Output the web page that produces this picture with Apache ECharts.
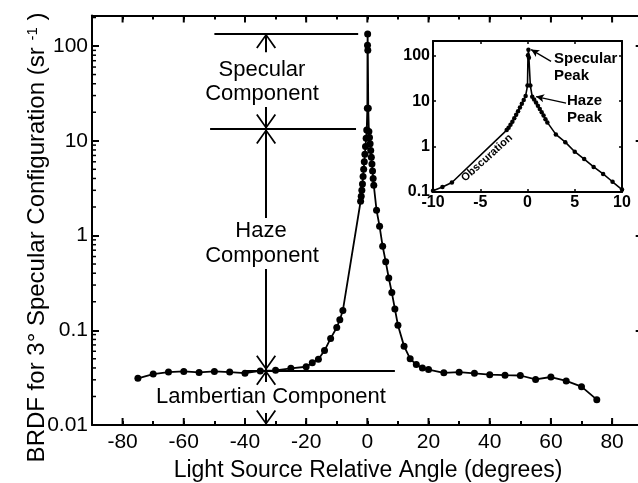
<!DOCTYPE html>
<html><head><meta charset="utf-8">
<script src="https://cdn.jsdelivr.net/npm/echarts@6/dist/echarts.min.js"></script>
<style>html,body{margin:0;padding:0;background:#fff}#c{width:638px;height:483px}</style>
</head><body><div id="c"></div>
<script>
// ---- data ----
const angles = [-75,-70,-65,-60,-55,-50,-45,-40,-35,-30,-25,-20,-18,-16,-14,-12,-10,-9,-8,
  -2.2,-2.0,-1.8,-1.6,-1.4,-1.2,-1.0,-0.8,-0.6,-0.4,-0.2,
  0,0.05,0.1,0.15,0.3,
  0.5,0.7,0.9,1.1,1.3,1.5,1.7,1.9,2.1,
  3,4,5,6,7,8,9,10,12,14,16,18,20,25,30,35,40,45,50,55,60,65,70,75];
const brdf = [0.0311,0.0345,0.0362,0.0368,0.0359,0.0368,0.0362,0.0352,0.0372,0.0378,0.0396,0.0412,0.0455,0.0495,0.061,0.082,0.107,0.129,0.162,
  2.3,2.6,3.0,3.5,4.2,5.0,6.0,7.2,8.7,10.6,13.0,
  22,102,134,90,22,
  12.5,10.8,9.3,7.9,6.7,5.7,4.8,4.0,3.4,
  1.85,1.25,0.77,0.53,0.356,0.25,0.168,0.113,0.068,0.050,0.0434,0.0400,0.0385,0.0355,0.0361,0.0351,0.0340,0.0336,0.0333,0.0303,0.0321,0.0292,0.0254,0.0185];
const xTickLabels = [-80,-60,-40,-20,0,20,40,60,80];
const yTickLabels = [0.01,0.1,1,10,100];
const insetXTicks = [-10,-5,0,5,10];
const insetYTicks = [0.1,1,10,100];
// component levels marked in the main plot
const specularLevel = 136, hazeLevel = 13.3, lambertLevel = 0.0378;
const componentArrowAngle = -33.1;
// level lines: [fromAngle, toAngle, level]
const levelLines = [[-50,-3,specularLevel],[-51.4,-3.7,hazeLevel],[-40,9,lambertLevel]];
// arrow segments along componentArrowAngle: [from, to] (arrow head at "to")
const arrowSegments = [[86,specularLevel],[22.7,hazeLevel],[1.53,hazeLevel],[0.444,lambertLevel],[0.0284,lambertLevel],[0.0134,0.01]];
// inset pointer arrows: [[fromX,fromY],[toX,toY]]
const insetArrows = [[[2.49,74.8],[0.38,136]],[[4.08,9.0],[0.91,12.6]]];
const X_MIN = -90, X_MAX = 90, Y_MIN = 0.01, Y_MAX = 210;
// log minor tick values for main y axis
const minorVals = [];
for (let e = -2; e <= 2; e++) for (let m = 2; m <= 9; m++) { const v = m * Math.pow(10, e); if (v < Y_MAX) minorVals.push(+v.toPrecision(3)); }

const FONT = 'Liberation Sans';
const pts = angles.map((a, i) => [a, brdf[i]]);
const chevron = 'path://M10,0 L20,14 L18.5,15 L10,2.8 L1.5,15 L0,14 Z';

const chart = echarts.init(document.getElementById('c'), null, {renderer: 'canvas'});
const axisLine = {show: true, onZero: false, lineStyle: {color: '#000', width: 2}};
const tickStyle = {width: 2, color: '#000'};
const option = {
  animation: false,
  backgroundColor: '#fff',
  grid: [
    {left: 92, top: 15.5, right: -4.7, bottom: 58, outerBoundsMode: 'none', containLabel: false},
    {left: 433, top: 41, right: 16, bottom: 291, outerBoundsMode: 'none', containLabel: false}
  ],
  xAxis: [
    {gridIndex: 0, type: 'value', min: X_MIN, max: X_MAX, interval: 10, position: 'bottom',
      axisLine, splitLine: {show: false},
      axisTick: {show: true, inside: true, length: 4, lineStyle: tickStyle},
      axisLabel: {color: '#000', fontSize: 21, fontFamily: FONT, margin: 7,
        formatter: v => xTickLabels.includes(v) ? String(v) : ''}},
    {gridIndex: 0, type: 'value', min: X_MIN, max: X_MAX, interval: 10, position: 'top',
      axisLine, splitLine: {show: false},
      axisTick: {show: true, inside: true, length: 4, lineStyle: tickStyle},
      axisLabel: {show: false}},
    {gridIndex: 1, type: 'value', min: -10, max: 10, interval: 5, position: 'bottom',
      axisLine, splitLine: {show: false},
      axisTick: {show: true, inside: true, length: 3, lineStyle: {width: 1.5, color: '#000'}},
      axisLabel: {color: '#000', fontSize: 16, fontWeight: 'bold', fontFamily: FONT, margin: 3,
        formatter: v => insetXTicks.includes(v) ? String(v) : ''}},
    {gridIndex: 1, type: 'value', min: -10, max: 10, interval: 5, position: 'top',
      axisLine, splitLine: {show: false},
      axisTick: {show: true, inside: true, length: 3, lineStyle: {width: 1.5, color: '#000'}},
      axisLabel: {show: false}}
  ],
  yAxis: [
    {gridIndex: 0, type: 'log', logBase: 10, min: Y_MIN, max: Y_MAX, position: 'left',
      axisLine, splitLine: {show: false},
      axisTick: {show: true, inside: true, length: 7, lineStyle: tickStyle},
      axisLabel: {color: '#000', fontSize: 21, fontFamily: FONT, margin: 4,
        formatter: v => { const f = yTickLabels.find(t => Math.abs(t - v) / t < 1e-6); return f === undefined ? '' : String(f); }}},
    {gridIndex: 0, type: 'log', logBase: 10, min: Y_MIN, max: Y_MAX, position: 'right',
      axisLine, splitLine: {show: false},
      axisTick: {show: true, inside: true, length: 7, lineStyle: tickStyle},
      axisLabel: {show: false}},
    {gridIndex: 1, type: 'log', logBase: 10, min: 0.1, max: 210, position: 'left',
      axisLine, splitLine: {show: false},
      axisTick: {show: true, inside: true, length: 3, lineStyle: {width: 1.5, color: '#000'}},
      axisLabel: {color: '#000', fontSize: 16, fontWeight: 'bold', fontFamily: FONT, margin: 3,
        formatter: v => { const f = insetYTicks.find(t => Math.abs(t - v) / t < 1e-6); return f === undefined ? '' : String(f); }}},
    {gridIndex: 1, type: 'log', logBase: 10, min: 0.1, max: 210, position: 'right',
      axisLine, splitLine: {show: false},
      axisTick: {show: true, inside: true, length: 3, lineStyle: {width: 1.5, color: '#000'}},
      axisLabel: {show: false}}
  ],
  series: [
    // log minor ticks on the left y axis
    {type: 'custom', xAxisIndex: 0, yAxisIndex: 0, silent: true, clip: false,
      data: minorVals.map(v => [X_MIN, v]),
      renderItem: (params, api) => {
        const p = api.coord([api.value(0), api.value(1)]);
        return {type: 'line', shape: {x1: p[0], y1: p[1], x2: p[0] + 4, y2: p[1]}, style: {stroke: '#000', lineWidth: 1.5}};
      }},
    // long (major) ticks on bottom and top x axes
    {type: 'custom', xAxisIndex: 0, yAxisIndex: 0, silent: true, clip: false,
      data: xTickLabels.map(v => [v]),
      renderItem: (params, api) => {
        const b = api.coord([api.value(0), Y_MIN]);
        const t = api.coord([api.value(0), Y_MAX]);
        return {type: 'group', children: [
          {type: 'line', shape: {x1: b[0], y1: b[1], x2: b[0], y2: b[1] - 7}, style: {stroke: '#000', lineWidth: 2}},
          {type: 'line', shape: {x1: t[0], y1: t[1], x2: t[0], y2: t[1] + 7}, style: {stroke: '#000', lineWidth: 2}}
        ]};
      }},
    {type: 'line', xAxisIndex: 0, yAxisIndex: 0, data: pts, color: '#000',
      symbol: 'circle', symbolSize: 7, showAllSymbol: true,
      lineStyle: {color: '#000', width: 1.8}, itemStyle: {color: '#000'},
      markLine: {silent: true, animation: false, symbol: ['none', 'none'],
        label: {show: false}, lineStyle: {color: '#000', width: 2, type: 'solid'},
        emphasis: {disabled: true},
        data: [
          ...levelLines.map(l => [{coord: [l[0], l[2]], symbol: 'none'}, {coord: [l[1], l[2]], symbol: 'none'}]),
          ...arrowSegments.map(s => [
            {coord: [componentArrowAngle, s[0]], symbol: 'none'},
            {coord: [componentArrowAngle, s[1]], symbol: chevron, symbolSize: [20, 15], symbolOffset: [0, 7.5], itemStyle: {color: '#000'}}])
        ]}},
    {type: 'line', xAxisIndex: 2, yAxisIndex: 2, data: pts, color: '#000', clip: true,
      symbol: 'circle', symbolSize: 4.5, showAllSymbol: true,
      lineStyle: {color: '#000', width: 1.6}, itemStyle: {color: '#000'},
      markLine: {silent: true, animation: false,
        label: {show: false}, lineStyle: {color: '#000', width: 1.3, type: 'solid'},
        emphasis: {disabled: true},
        data: insetArrows.map(a => [{coord: a[0], symbol: 'none'}, {coord: a[1], symbol: 'arrow', symbolSize: [6, 8], itemStyle: {color: '#000'}}])}}
  ],
  graphic: [
    {type: 'text', x: 262, y: 70, style: {text: 'Specular', font: '22px "Liberation Sans"', fill: '#000', align: 'center', verticalAlign: 'middle'}},
    {type: 'text', x: 262, y: 94, style: {text: 'Component', font: '22px "Liberation Sans"', fill: '#000', align: 'center', verticalAlign: 'middle'}},
    {type: 'text', x: 261, y: 231, style: {text: 'Haze', font: '22px "Liberation Sans"', fill: '#000', align: 'center', verticalAlign: 'middle'}},
    {type: 'text', x: 262, y: 256, style: {text: 'Component', font: '22px "Liberation Sans"', fill: '#000', align: 'center', verticalAlign: 'middle'}},
    {type: 'text', x: 271, y: 397, style: {text: 'Lambertian Component', font: '22px "Liberation Sans"', fill: '#000', align: 'center', verticalAlign: 'middle'}},
    {type: 'text', x: 368, y: 471, style: {text: 'Light Source Relative Angle (degrees)', font: '23px "Liberation Sans"', fill: '#000', align: 'center', verticalAlign: 'middle'}},
    {type: 'text', x: 37.5, y: 237.5, rotation: Math.PI / 2,
      style: {text: 'BRDF for 3° Specular Configuration (sr {s|-1} )', font: '24px "Liberation Sans"', fill: '#000', align: 'center', verticalAlign: 'middle',
        rich: {s: {fontSize: 15, fontFamily: FONT, verticalAlign: 'top', fill: '#000'}}}},
    {type: 'text', x: 554, y: 59, style: {text: 'Specular', font: 'bold 15px "Liberation Sans"', fill: '#000', align: 'left', verticalAlign: 'middle'}},
    {type: 'text', x: 554, y: 76, style: {text: 'Peak', font: 'bold 15px "Liberation Sans"', fill: '#000', align: 'left', verticalAlign: 'middle'}},
    {type: 'text', x: 567, y: 100.5, style: {text: 'Haze', font: 'bold 15px "Liberation Sans"', fill: '#000', align: 'left', verticalAlign: 'middle'}},
    {type: 'text', x: 567, y: 117.5, style: {text: 'Peak', font: 'bold 15px "Liberation Sans"', fill: '#000', align: 'left', verticalAlign: 'middle'}},
    {type: 'text', x: 487, y: 158, rotation: 42 * Math.PI / 180,
      style: {text: 'Obscuration', font: 'bold 11px "Liberation Sans"', fill: '#000', align: 'center', verticalAlign: 'middle'}}
  ]
};
chart.setOption(option);
</script></body></html>
